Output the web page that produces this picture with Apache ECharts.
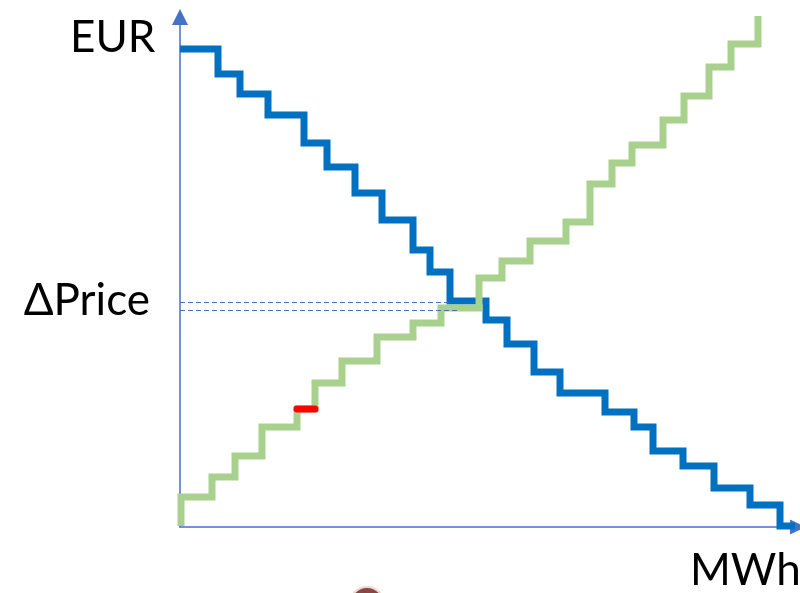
<!DOCTYPE html>
<html>
<head>
<meta charset="utf-8">
<script src="https://cdn.jsdelivr.net/npm/echarts@6/dist/echarts.min.js"></script>
<style>
  html, body { margin: 0; padding: 0; background: #ffffff; }
  #chart { width: 800px; height: 593px; }
</style>
</head>
<body>
<div id="chart"></div>
<script>
// Axis ranges (MWh horizontally, EUR vertically)
const xMax = 123.6;
const yMax = 102;

// Demand curve: each point starts a horizontal step (quantity, price)
const demandMWh = [0, 7.6, 12, 17.6, 24.8, 29.4, 35, 40.4, 46.6, 50, 54, 61.2, 65.4, 70.8, 76, 85, 90.8, 94.6, 100.6, 106.8, 114, 120, 123];
const demandEUR = [95.6, 90.6, 86.6, 82.4, 76.8, 72, 66.8, 61.4, 55.4, 51, 45.2, 41.4, 36.6, 31, 26.8, 23, 20, 15.2, 12.2, 7.8, 4.4, 0.2, 0.2];

// Supply curve: each point ends a horizontal step (quantity, price)
const supplyMWh = [0.2, 6.4, 11, 16.4, 23.4, 27, 32.4, 39.4, 46.6, 52.2, 59.8, 64.4, 70, 77.2, 82, 86.4, 90.4, 96.6, 100.8, 105.8, 110.2, 115.6, 115.6];
const supplyEUR = [0.2, 6, 10, 14.2, 20, 23.6, 28.8, 33.2, 38, 40.8, 43.8, 49.8, 53.2, 57.2, 61, 68.6, 72.8, 76.4, 81.4, 86.2, 92, 96.6, 102.2];

// Highlighted supply bid
const bidMWh = [23.4, 27];
const bidEUR = 23.6;

// Clearing price band and the reach of its guide lines
const clearingEUR = [44.9, 43.3];
const clearingReachMWh = [54, 56];

// Text labels
const yAxisTitle = 'EUR';
const xAxisTitle = 'MWh';
const priceLabel = '\u0394Price';

const zip = (xs, ys) => xs.map((x, i) => [x, ys[i]]);

const chart = echarts.init(document.getElementById('chart'), null, { renderer: 'canvas' });

const axisColor = '#4472C4';
const font = 'Lato, "Open Sans", sans-serif';

const option = {
  animation: false,
  backgroundColor: '#ffffff',
  grid: { left: 180, right: 2, top: 17, bottom: 66, containLabel: false },
  xAxis: {
    type: 'value', min: 0, max: xMax,
    axisLine: { show: true, lineStyle: { color: axisColor, width: 1.5 }, symbol: ['none', 'triangle'], symbolSize: [15, 16] },
    axisTick: { show: false }, axisLabel: { show: false }, splitLine: { show: false }
  },
  yAxis: {
    type: 'value', min: 0, max: yMax,
    axisLine: { show: true, onZero: false, lineStyle: { color: axisColor, width: 1.5 }, symbol: ['none', 'triangle'], symbolSize: [16, 16] },
    axisTick: { show: false }, axisLabel: { show: false }, splitLine: { show: false }
  },
  series: [
    {
      name: 'Demand', type: 'line', step: 'end', clip: false, showSymbol: false, z: 3,
      data: zip(demandMWh, demandEUR),
      lineStyle: { color: '#0070C0', width: 7, cap: 'butt', join: 'miter' }
    },
    {
      name: 'Supply', type: 'line', step: 'start', clip: false, showSymbol: false, z: 4,
      data: zip(supplyMWh, supplyEUR),
      lineStyle: { color: '#A9D18E', width: 7, cap: 'butt', join: 'miter' }
    },
    {
      name: 'Bid', type: 'line', clip: false, showSymbol: false, z: 5,
      data: bidMWh.map(x => [x, bidEUR]),
      lineStyle: { color: '#FF0000', width: 7, cap: 'round' }
    },
    ...clearingEUR.map((p, i) => ({
      name: 'Clearing ' + i, type: 'line', clip: false, showSymbol: false, z: 6,
      data: [[0, p], [clearingReachMWh[i], p]],
      lineStyle: { color: axisColor, width: 1, type: [5, 3] }
    }))
  ]
};

chart.setOption(option);

// Titles and the price label, placed from the axes
const origin = chart.convertToPixel({ gridIndex: 0 }, [0, 0]);
const priceY = chart.convertToPixel({ gridIndex: 0 }, [0, (clearingEUR[0] + clearingEUR[1]) / 2])[1];

chart.setOption({
  graphic: [
    {
      type: 'text', x: 70, y: 38,
      style: { text: yAxisTitle, font: '44px ' + font, fill: '#000000', textAlign: 'left', textVerticalAlign: 'middle' }
    },
    {
      type: 'text', x: origin[0] - 30, y: priceY - 6,
      style: { text: priceLabel, font: '44px ' + font, fill: '#000000', textAlign: 'right', textVerticalAlign: 'middle' }
    },
    {
      type: 'text', x: 690, y: 571,
      style: { text: xAxisTitle, font: '44px ' + font, fill: '#000000', textAlign: 'left', textVerticalAlign: 'middle' }
    },
    {
      type: 'circle', shape: { cx: 367, cy: 604, r: 17 },
      style: { fill: '#8a4545', stroke: '#eed8cc', lineWidth: 2 }
    }
  ]
});
</script>
</body>
</html>
